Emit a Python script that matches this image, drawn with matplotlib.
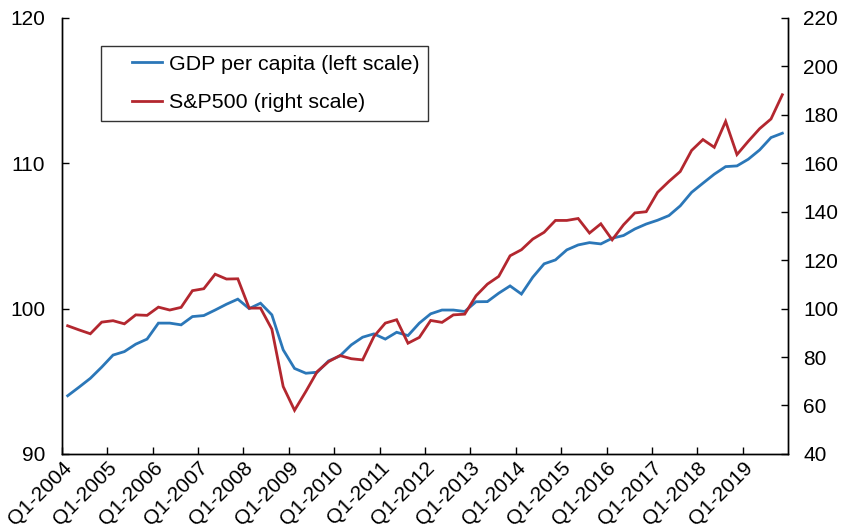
import matplotlib
matplotlib.use("Agg")
import matplotlib.pyplot as plt
from matplotlib.legend_handler import HandlerLine2D
import numpy as np

# quarterly, Q1-2004 .. Q4-2019
years = list(range(2004, 2020))
tick_labels = [f"Q1-{y}" for y in years]

gdp_per_capita = [
    94.0, 94.59, 95.2, 95.97, 96.8, 97.04, 97.55, 97.9,
    99.0, 99.0, 98.88, 99.45, 99.52, 99.9, 100.3, 100.65,
    100.0, 100.37, 99.57, 97.16, 95.88, 95.55, 95.62, 96.4,
    96.74, 97.5, 98.03, 98.26, 97.9, 98.37, 98.14, 99.0,
    99.64, 99.9, 99.9, 99.8, 100.47, 100.48, 101.06, 101.56,
    101.0, 102.16, 103.08, 103.35, 104.04, 104.38, 104.54, 104.45,
    104.84, 105.03, 105.48, 105.82, 106.08, 106.4, 107.07, 108.0,
    108.63, 109.25, 109.77, 109.82, 110.28, 110.92, 111.77, 112.07,
]

sp500 = [
    92.9, 91.2, 89.6, 94.4, 95.0, 93.7, 97.4, 97.2,
    100.6, 99.4, 100.5, 107.4, 108.2, 114.2, 112.2, 112.3,
    100.2, 100.2, 91.5, 67.8, 58.0, 65.8, 74.0, 78.1,
    80.6, 79.3, 78.8, 88.5, 94.0, 95.4, 85.7, 88.1,
    95.1, 94.3, 97.4, 97.7, 105.3, 110.1, 113.3, 121.8,
    124.3, 128.7, 131.5, 136.4, 136.4, 137.2, 131.2, 135.0,
    128.4, 134.6, 139.5, 140.0, 148.0, 152.5, 156.6, 165.3,
    169.8, 166.6, 177.3, 163.6, 169.1, 174.3, 178.3, 188.3,
]

plt.rcParams["font.family"] = ["Liberation Sans", "DejaVu Sans"]

blue = "#2b77b8"
red = "#b3272f"
fs = 15
leg_fs = 15.4

x = np.arange(len(gdp_per_capita)) + 0.5

fig = plt.figure(figsize=(8.41, 5.29), dpi=100)
ax = fig.add_axes([0.0737, 0.142, 0.8633, 0.824])
ax2 = ax.twinx()

(l1,) = ax.plot(x, gdp_per_capita, color=blue, lw=2.0, solid_joinstyle="miter")
(l2,) = ax2.plot(x, sp500, color=red, lw=2.0, solid_joinstyle="miter")

ax.set_xlim(0, len(gdp_per_capita))
ax.set_ylim(90, 120)
ax.set_yticks([90, 100, 110, 120])
ax2.set_ylim(40, 220)
ax2.set_yticks(range(40, 221, 20))

ax.set_xticks(np.arange(0, len(gdp_per_capita), 4))
ax.set_xticklabels(tick_labels, rotation=45, ha="right", va="top",
                   rotation_mode="anchor")

for a in (ax, ax2):
    a.spines["top"].set_visible(False)
    for s in a.spines.values():
        s.set_linewidth(1.0)
    a.tick_params(direction="in", length=5, width=1.0, labelsize=fs)
ax.tick_params(axis="x", pad=3)
ax.tick_params(axis="y", pad=12)
ax2.tick_params(axis="y", pad=11)

# shift the legend line right inside its handle box (wide left margin as in the original)
hmap = {l1: HandlerLine2D(xpad=1.05), l2: HandlerLine2D(xpad=1.05)}
leg = ax.legend([l1, l2], ["GDP per capita (left scale)", "S&P500 (right scale)"],
                loc="upper left", bbox_to_anchor=(0.0537, 0.936), borderaxespad=0,
                fontsize=leg_fs, frameon=True, fancybox=False, edgecolor="black",
                handlelength=2.42, handletextpad=0.33, borderpad=0.42,
                labelspacing=0.9, handler_map=hmap)
leg.get_frame().set_linewidth(1.0)

fig.savefig("out.png", dpi=100)
